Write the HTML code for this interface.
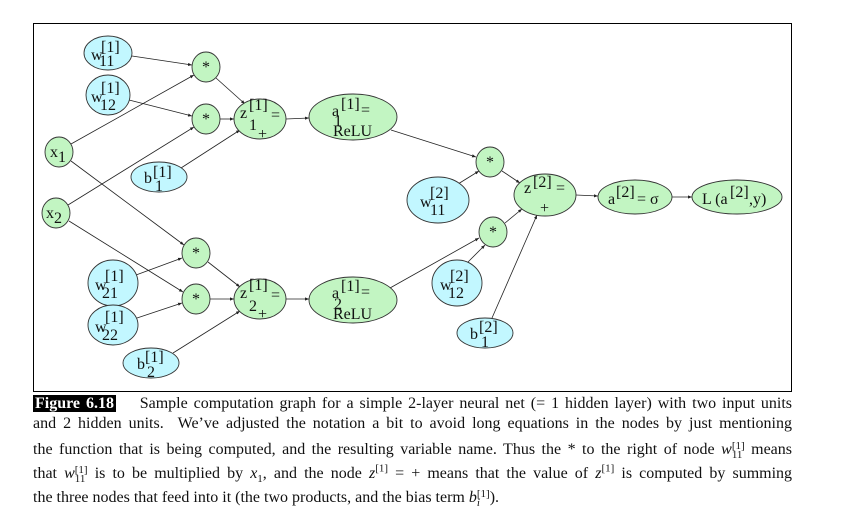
<!DOCTYPE html>
<html><head><meta charset="utf-8"><style>
body{margin:0;background:#fff;width:851px;height:528px;overflow:hidden;font-family:"Liberation Serif",serif}
#fr{position:absolute;left:33px;top:23px;width:759px;height:369px;border:1px solid #000;box-sizing:border-box}
svg{position:absolute;left:0;top:0}
.cap{position:absolute;left:33px;width:759px;font-size:16px;color:#111;white-space:nowrap;text-align:justify;text-align-last:justify;line-height:20px}
.cap.last{text-align-last:left}
.fig{background:#000;color:#fff;font-weight:bold;padding:0 2px}
.ss{display:inline-block;vertical-align:-4px;line-height:9px;font-size:11px;text-align:left}
sup{font-size:11px;line-height:0}sub{font-size:11px;line-height:0}
</style></head><body>
<div id="fr"></div>
<svg width="851" height="528" font-family="Liberation Serif, serif" font-size="16" fill="#111">
<defs><marker id="a" markerWidth="6" markerHeight="6" refX="5" refY="3" orient="auto"><path d="M0,1 L5,3 L0,5z" fill="#222"/></marker></defs>
<g stroke="#222" stroke-width="0.8" marker-end="url(#a)">
<line x1="132" y1="56" x2="192" y2="65"/>
<line x1="71" y1="144" x2="194" y2="75"/>
<line x1="129" y1="100" x2="192" y2="116"/>
<line x1="68" y1="205" x2="194" y2="127"/>
<line x1="216" y1="78" x2="245" y2="104"/>
<line x1="220" y1="119" x2="234" y2="119"/>
<line x1="181" y1="168" x2="240" y2="130"/>
<line x1="286" y1="119" x2="309" y2="118"/>
<line x1="71" y1="161" x2="184" y2="245"/>
<line x1="69" y1="221" x2="183" y2="292"/>
<line x1="136" y1="275" x2="182" y2="258"/>
<line x1="137" y1="318" x2="182" y2="303"/>
<line x1="208" y1="262" x2="240" y2="287"/>
<line x1="210" y1="299" x2="234" y2="299"/>
<line x1="173" y1="353" x2="240" y2="311"/>
<line x1="286" y1="299" x2="309" y2="299"/>
<line x1="391" y1="130" x2="476" y2="157"/>
<line x1="458" y1="184" x2="479" y2="171"/>
<line x1="390" y1="288" x2="479" y2="238"/>
<line x1="468" y1="262" x2="485" y2="245"/>
<line x1="502" y1="171" x2="520" y2="183"/>
<line x1="505" y1="223" x2="522" y2="209"/>
<line x1="492" y1="318" x2="537" y2="215"/>
<line x1="576" y1="195" x2="598" y2="196"/>
<line x1="672" y1="197" x2="692" y2="197"/>
</g>
<g stroke="#333" stroke-width="0.9">
<g fill="#c2f7ff">
<ellipse cx="108" cy="53" rx="24" ry="17"/><ellipse cx="108" cy="95" rx="22" ry="20"/>
<ellipse cx="159" cy="177" rx="28" ry="15"/><ellipse cx="113" cy="283" rx="25" ry="23"/>
<ellipse cx="113" cy="325" rx="25" ry="20"/><ellipse cx="151" cy="363" rx="28" ry="15"/>
<ellipse cx="438" cy="200" rx="31" ry="23"/><ellipse cx="457" cy="283" rx="25" ry="23"/>
<ellipse cx="485" cy="333" rx="28" ry="15"/>
</g>
<g fill="#c2f5c2">
<ellipse cx="206" cy="67" rx="14" ry="15"/><ellipse cx="206" cy="119" rx="14" ry="15"/>
<ellipse cx="260" cy="119" rx="26" ry="20"/><ellipse cx="353" cy="117" rx="44" ry="23"/>
<ellipse cx="59" cy="152" rx="14" ry="15"/><ellipse cx="56" cy="213" rx="14" ry="15"/>
<ellipse cx="196" cy="253" rx="14" ry="15"/><ellipse cx="196" cy="299" rx="14" ry="15"/>
<ellipse cx="260" cy="299" rx="26" ry="20"/><ellipse cx="353" cy="300" rx="44" ry="23"/>
<ellipse cx="490" cy="162" rx="14" ry="15"/><ellipse cx="493" cy="232" rx="14" ry="15"/>
<ellipse cx="545" cy="195" rx="31" ry="21"/><ellipse cx="635" cy="197" rx="37" ry="17"/>
<ellipse cx="737" cy="197" rx="45" ry="17"/>
</g></g>
<g>
<text x="91" y="60">w<tspan x="101" y="52">[1]</tspan><tspan x="99" y="66">11</tspan></text>
<text x="91" y="102">w<tspan x="101" y="93">[1]</tspan><tspan x="100" y="110">12</tspan></text>
<text x="95" y="290">w<tspan x="105" y="281">[1]</tspan><tspan x="102" y="298">21</tspan></text>
<text x="95" y="332">w<tspan x="105" y="322">[1]</tspan><tspan x="102" y="340">22</tspan></text>
<text x="144" y="183">b<tspan x="153" y="177">[1]</tspan><tspan x="155" y="191">1</tspan></text>
<text x="137" y="369">b<tspan x="145" y="362">[1]</tspan><tspan x="147" y="377">2</tspan></text>
<text x="420" y="207">w<tspan x="430" y="198">[2]</tspan><tspan x="430" y="215">11</tspan></text>
<text x="440" y="290">w<tspan x="450" y="281">[2]</tspan><tspan x="448" y="298">12</tspan></text>
<text x="470" y="339">b<tspan x="479" y="332">[2]</tspan><tspan x="481" y="347">1</tspan></text>
<text x="50" y="157">x<tspan x="58" y="162">1</tspan></text>
<text x="46" y="218">x<tspan x="54" y="223">2</tspan></text>
<text x="202" y="72">*</text><text x="202" y="124">*</text><text x="192" y="258">*</text><text x="192" y="304">*</text>
<text x="486" y="167">*</text><text x="489" y="237">*</text>
<text x="240" y="118">z<tspan x="249" y="110">[1]</tspan><tspan x="271" y="120">=</tspan><tspan x="249" y="130">1</tspan><tspan x="258" y="139">+</tspan></text>
<text x="240" y="298">z<tspan x="249" y="290">[1]</tspan><tspan x="271" y="300">=</tspan><tspan x="249" y="311">2</tspan><tspan x="258" y="319">+</tspan></text>
<text x="332" y="116">a<tspan x="341" y="109">[1]</tspan><tspan x="361" y="115">=</tspan><tspan x="334" y="126">1</tspan><tspan x="333" y="136">ReLU</tspan></text>
<text x="332" y="298">a<tspan x="341" y="291">[1]</tspan><tspan x="361" y="297">=</tspan><tspan x="334" y="309">2</tspan><tspan x="333" y="319">ReLU</tspan></text>
<text x="524" y="193">z<tspan x="533" y="187">[2]</tspan><tspan x="556" y="193">=</tspan><tspan x="540" y="213">+</tspan></text>
<text x="608" y="204">a<tspan x="616" y="197">[2]</tspan><tspan x="637" y="204">= σ</tspan></text>
<text x="702" y="204">L (a<tspan x="730" y="197">[2]</tspan><tspan x="749" y="204">,y)</tspan></text>
</g>
</svg>
<div class="cap" style="top:394px"><span class="fig">Figure 6.18</span>&nbsp;&nbsp;&nbsp; Sample computation graph for a simple 2-layer neural net (= 1 hidden layer) with two input units</div>
<div class="cap" style="top:414px">and 2 hidden units. &nbsp;We’ve adjusted the notation a bit to avoid long equations in the nodes by just mentioning</div>
<div class="cap" style="top:440px">the function that is being computed, and the resulting variable name. Thus the * to the right of node <i>w</i><span class="ss">[1]<br>11</span> means</div>
<div class="cap" style="top:464px">that <i>w</i><span class="ss">[1]<br>11</span> is to be multiplied by <i>x</i><sub>1</sub>, and the node <i>z</i><sup>[1]</sup> = + means that the value of <i>z</i><sup>[1]</sup> is computed by summing</div>
<div class="cap last" style="top:488px">the three nodes that feed into it (the two products, and the bias term <i>b</i><span class="ss">[1]<br><i>i</i></span>).</div>
</body></html>
